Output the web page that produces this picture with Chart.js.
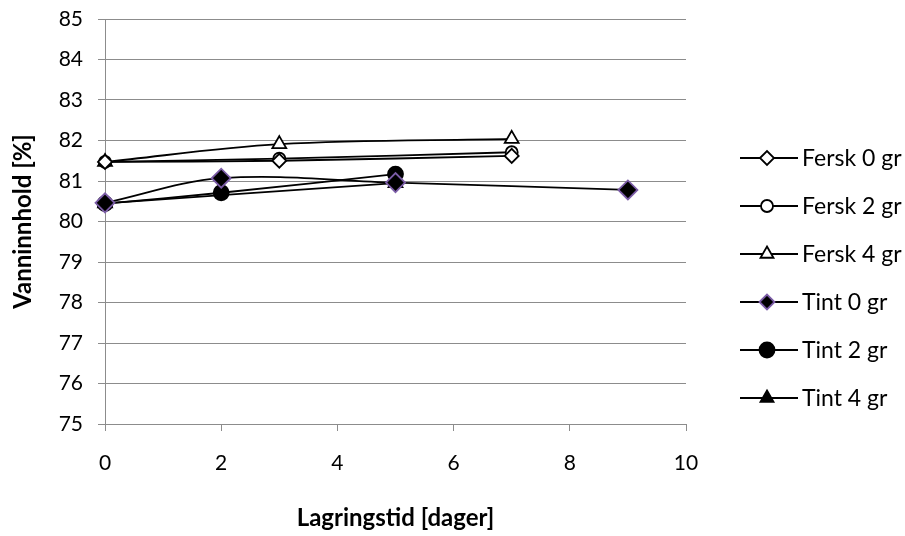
<!DOCTYPE html>
<html>
<head>
<meta charset="utf-8">
<script src="https://cdn.jsdelivr.net/npm/chart.js@4/dist/chart.umd.min.js"></script>
<style>
  html, body { margin: 0; padding: 0; background: #fff; }
</style>
</head>
<body>
<canvas id="chart" width="905" height="536"></canvas>
<script>
const seriesNames = ['Fersk 0 gr', 'Fersk 2 gr', 'Fersk 4 gr', 'Tint 0 gr', 'Tint 2 gr', 'Tint 4 gr'];

const ferskDays = [0, 3, 7];
const fersk0 = [81.47, 81.50, 81.62];
const fersk2 = [81.47, 81.55, 81.71];
const fersk4 = [81.47, 81.91, 82.04];

const tint0Days = [0, 2, 5, 9];
const tint0 = [80.46, 81.07, 80.96, 80.78];
const tint2Days = [0, 2, 5];
const tint2 = [80.44, 80.71, 81.17];
const tint4Days = [0, 5];
const tint4 = [80.45, 80.95];

const yTicks = [75, 76, 77, 78, 79, 80, 81, 82, 83, 84, 85];
const xTicks = [0, 2, 4, 6, 8, 10];

const toPoints = (xs, ys) => xs.map((x, i) => ({ x: x, y: ys[i] }));

const styles = [
  { pointStyle: 'rectRot', radius: 7, fill: '#ffffff', border: '#000000' },
  { pointStyle: 'circle', radius: 6, fill: '#ffffff', border: '#000000' },
  { pointStyle: 'triangle', radius: 8, fill: '#ffffff', border: '#000000' },
  { pointStyle: 'rectRot', radius: 9.5, fill: '#000000', border: '#7b5ca6' },
  { pointStyle: 'circle', radius: 7.5, fill: '#000000', border: '#000000' },
  { pointStyle: 'triangle', radius: 8, fill: '#000000', border: '#000000' }
];

const seriesData = [
  toPoints(ferskDays, fersk0),
  toPoints(ferskDays, fersk2),
  toPoints(ferskDays, fersk4),
  toPoints(tint0Days, tint0),
  toPoints(tint2Days, tint2),
  toPoints(tint4Days, tint4)
];

const datasets = seriesNames.map((name, i) => ({
  label: name,
  data: seriesData[i],
  borderColor: '#000000',
  borderWidth: 1.8,
  tension: 0.35,
  clip: false,
  pointStyle: styles[i].pointStyle,
  pointRadius: styles[i].radius,
  pointBackgroundColor: styles[i].fill,
  pointBorderColor: styles[i].border,
  pointBorderWidth: 1.8,
  fill: false
}));

const FONT = 'Lato, "Open Sans", sans-serif';

// legend drawn on the right: line with marker, then the text
const sideLegend = {
  id: 'sideLegend',
  afterDraw(chart) {
    const ctx = chart.ctx;
    ctx.save();
    seriesNames.forEach((name, i) => {
      const y = 158 + i * 48;
      ctx.strokeStyle = '#000';
      ctx.lineWidth = 1.8;
      ctx.beginPath();
      ctx.moveTo(740, y);
      ctx.lineTo(798, y);
      ctx.stroke();
      ctx.fillStyle = styles[i].fill;
      ctx.strokeStyle = styles[i].border;
      ctx.lineWidth = 1.8;
      Chart.helpers.drawPoint(ctx, {
        pointStyle: styles[i].pointStyle,
        radius: Math.min(styles[i].radius, 7.5),
        rotation: 0,
        borderWidth: 1.8
      }, 767, y);
      ctx.fillStyle = '#000';
      ctx.font = '23px ' + FONT;
      ctx.textAlign = 'left';
      ctx.textBaseline = 'middle';
      ctx.fillText(name, 802, y + 1);
    });
    ctx.restore();
  }
};

new Chart(document.getElementById('chart'), {
  type: 'line',
  data: { datasets: datasets },
  options: {
    responsive: false,
    animation: false,
    layout: { padding: { top: 19, right: 219, left: 0, bottom: 0 } },
    plugins: {
      legend: { display: false },
      tooltip: { enabled: false }
    },
    scales: {
      x: {
        type: 'linear',
        min: 0,
        max: 10,
        afterBuildTicks: s => { s.ticks = xTicks.map(v => ({ value: v })); },
        afterFit: s => { s.height = 112; },
        grid: { drawOnChartArea: false, drawTicks: true, tickLength: 7, color: '#8c8c8c' },
        border: { color: '#8c8c8c', width: 1 },
        ticks: { color: '#000', font: { family: FONT, size: 21 }, padding: 20, maxRotation: 0 },
        title: {
          display: true,
          text: 'Lagringstid [dager]',
          color: '#000',
          font: { family: FONT, size: 24, weight: 'bold' },
          padding: { top: 3, bottom: 3 }
        }
      },
      y: {
        min: 75,
        max: 85,
        afterBuildTicks: s => { s.ticks = yTicks.map(v => ({ value: v })); },
        afterFit: s => { s.width = 105; s.paddingTop = 0; s.paddingBottom = 0; },
        grid: { color: '#8c8c8c', lineWidth: 1, tickLength: 7 },
        border: { color: '#8c8c8c', width: 1 },
        ticks: { color: '#000', font: { family: FONT, size: 21 }, padding: 15 },
        title: {
          display: true,
          text: 'Vanninnhold [%]',
          color: '#000',
          font: { family: FONT, size: 24, weight: 'bold' },
          padding: { top: 9, bottom: 9 }
        }
      }
    }
  },
  plugins: [sideLegend]
});
</script>
</body>
</html>
